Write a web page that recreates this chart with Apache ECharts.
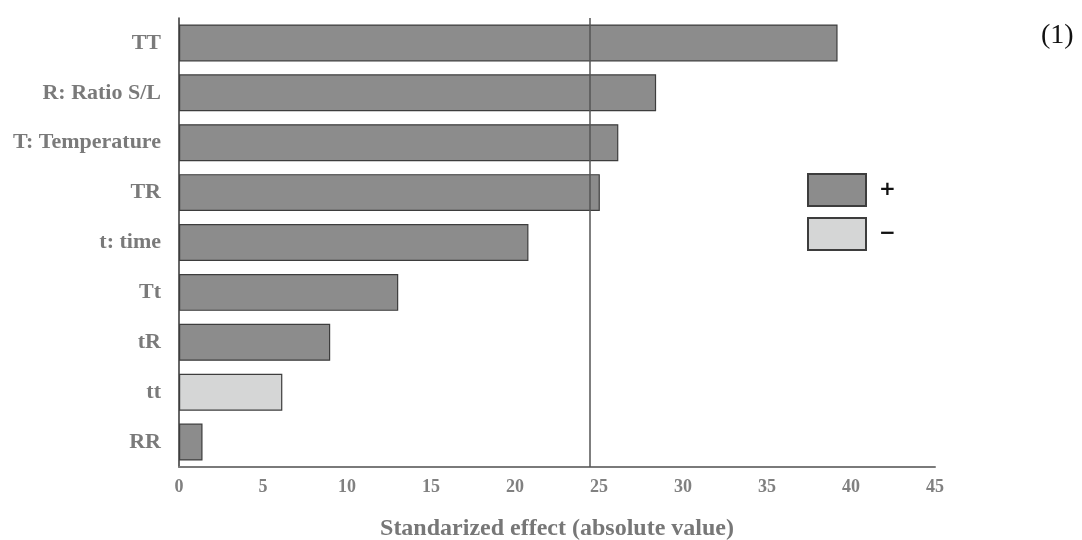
<!DOCTYPE html>
<html>
<head>
<meta charset="utf-8">
<script src="https://cdn.jsdelivr.net/npm/echarts@6/dist/echarts.min.js"></script>
<style>html,body{margin:0;padding:0;background:#fff;}#c{width:1082px;height:540px;}</style>
</head>
<body>
<div id="c"></div>
<script>
const categories = ['TT', 'R: Ratio S/L', 'T: Temperature', 'TR', 't: time', 'Tt', 'tR', 'tt', 'RR'];
const effects = [39.2, 28.4, 26.15, 25.05, 20.8, 13.05, 9.0, 6.15, 1.4];
const signs = ['+', '+', '+', '+', '+', '+', '+', '-', '+'];
const xTicks = [0, 5, 10, 15, 20, 25, 30, 35, 40, 45];
const refLine = 24.45;

const posData = effects.map((v, i) => signs[i] === '+' ? v : null);
const negData = effects.map((v, i) => signs[i] === '-' ? v : null);

const serif = '"Liberation Serif", "DejaVu Serif", serif';
const chart = echarts.init(document.getElementById('c'));
chart.setOption({
  animation: false,
  grid: { left: 179, right: 147, top: 18, bottom: 73, containLabel: false, outerBoundsMode: 'none' },
  xAxis: {
    type: 'value', min: xTicks[0], max: xTicks[xTicks.length - 1], interval: 5,
    axisLine: { show: true, lineStyle: { color: '#7a7a7a', width: 2 } },
    axisTick: { show: false },
    splitLine: { show: false },
    axisLabel: { color: '#808080', fontFamily: serif, fontWeight: 'bold', fontSize: 18, margin: 11 },
    name: 'Standarized effect (absolute value)',
    nameLocation: 'middle', nameGap: 50,
    nameTextStyle: { color: '#777', fontFamily: serif, fontWeight: 'bold', fontSize: 24 }
  },
  yAxis: {
    type: 'category', data: categories, inverse: true,
    axisLine: { show: true, lineStyle: { color: '#333', width: 1.5 } },
    axisTick: { show: false },
    axisLabel: { color: '#7a7a7a', fontFamily: serif, fontWeight: 'bold', fontSize: 22, margin: 18 }
  },
  legend: {
    orient: 'vertical', left: 807, top: 173, padding: 0,
    itemWidth: 58, itemHeight: 32, itemGap: 10,
    data: [{ name: '+', icon: 'rect' }, { name: '−', icon: 'rect' }],
    textStyle: { color: '#111', fontSize: 20, fontWeight: 'bold', fontFamily: '"DejaVu Sans", sans-serif', padding: [0, 0, 0, 8] }
  },
  graphic: [{
    type: 'text', left: 1041, top: 22,
    style: { text: '(1)', font: '28px "Liberation Serif", serif', fill: '#111' }
  }],
  series: [
    {
      name: '+', type: 'bar', stack: 'a', data: posData, barWidth: '74%',
      itemStyle: { color: '#8c8c8c', borderColor: '#3d3d3d', borderWidth: 1.2 },
      markLine: {
        silent: true, symbol: 'none', label: { show: false },
        lineStyle: { color: '#555', width: 1.5, type: 'solid' },
        data: [{ xAxis: refLine }]
      }
    },
    {
      name: '−', type: 'bar', stack: 'a', data: negData, barWidth: '74%',
      itemStyle: { color: '#d5d6d6', borderColor: '#3d3d3d', borderWidth: 1.2 }
    }
  ]
});
</script>
</body>
</html>
